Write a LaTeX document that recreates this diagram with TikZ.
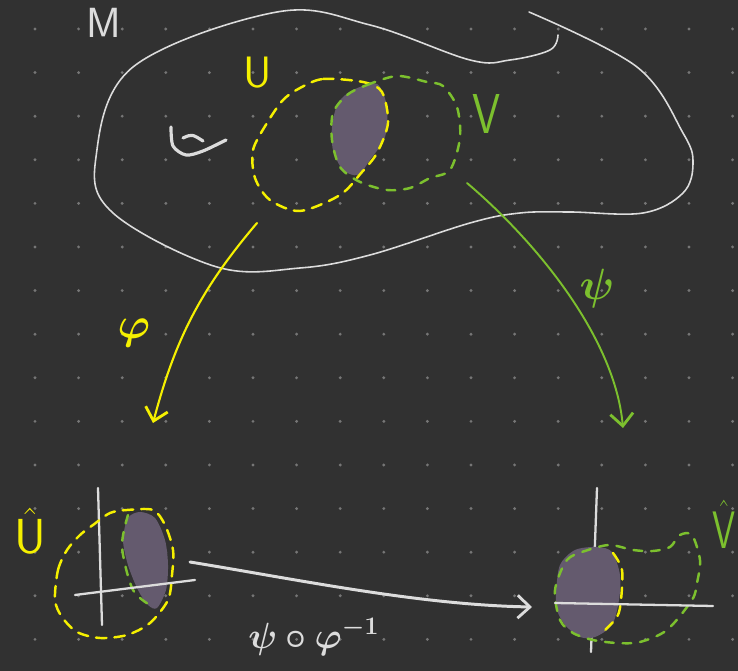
\documentclass[tikz,border=0pt]{standalone}
\usepackage{amsmath,amssymb,bm}
\usepackage{graphicx}
\usepackage{xcolor}
\usepackage{tikz}
\usetikzlibrary{arrows.meta}

\definecolor{board}{HTML}{313131}
\definecolor{dotgray}{HTML}{767676}
\definecolor{chalkwhite}{HTML}{DCDCDC}
\definecolor{chalkyellow}{HTML}{F5F000}
\definecolor{chalkgreen}{HTML}{7CC02E}
\definecolor{lensfill}{HTML}{645A6E}

\begin{document}
\begin{tikzpicture}[x=0.02cm,y=-0.02cm,
    chalk/.style={line width=1.4pt,line cap=round,line join=round},
    dashU/.style={chalk,chalkyellow,dash pattern=on 6pt off 4.5pt},
    dashV/.style={chalk,chalkgreen,dash pattern=on 5pt off 5pt},
    axisline/.style={chalk,chalkwhite,line width=1.3pt},
    mapto/.style={line cap=round,-{Straight Barb[length=7pt,width=13pt,line width=1.6pt]}},
    handlabel/.style={inner sep=0pt}]
  \useasboundingbox (0,0) rectangle (738,671);
  \fill[board] (0,0) rectangle (738,671);
  \foreach \col in {0,...,16}
    \foreach \row in {0,...,14}
      \fill[dotgray] (35+43.6*\col,29+43.6*\row) circle (1.6);

  % the manifold
  \draw[chalkwhite,line width=0.9pt,line cap=round] plot[smooth,tension=0.6] coordinates
    {(529,12) (637,67) (683,133) (693,163) (683,193) (643,213) (570,212) (520,213)
     (470,223) (370,255) (300,268) (217,267) (113,213) (96,157) (133,67) (277,12)
     (370,25) (470,60) (510,60) (550,50) (558,35)};
  \node[handlabel,chalkwhite,font=\fontsize{24}{24}\selectfont\sffamily] (labelM) at (104,23) {M};
  \draw[chalk,chalkwhite,line width=1.8pt] plot[smooth] coordinates
    {(171,127) (173,146) (186,155) (203,151) (226,140)};
  \draw[chalk,chalkwhite,line width=1.8pt] (183,138) .. controls (192,134) .. (203,141);

  % charts in M
  \fill[lensfill] plot[smooth cycle] coordinates
    {(377,84) (387,107) (385,137) (370,160) (358,175) (343,170) (333,150)
     (332,127) (338,103) (353,90)};
  \draw[dashU] plot[smooth cycle] coordinates
    {(300,88) (323,79) (363,82) (382,92) (388,123) (377,153) (362,172) (340,195)
     (300,211) (270,200) (255,178) (253,150) (267,123) (283,100)};
  \draw[dashV] plot[smooth cycle] coordinates
    {(347,95) (367,85) (397,76) (427,82) (443,86) (457,107) (460,138) (450,170)
     (430,178) (410,188) (387,190) (360,182) (340,167) (332,140) (333,113)};
  \node[handlabel,chalkyellow,font=\fontsize{25}{25}\selectfont\sffamily] (labelU) at (258,73) {U};
  \node[handlabel,chalkgreen,font=\fontsize{32}{32}\selectfont\sffamily] (labelV) at (487,114) {\scalebox{0.8}[1]{V}};

  % the two charts
  \coordinate (phiStart) at (257,223);
  \coordinate (phiEnd) at (153,423);
  \coordinate (psiStart) at (467,183);
  \coordinate (psiEnd) at (623,428);
  \draw[mapto,chalkyellow,line width=1.2pt] (phiStart) .. controls (200,290) and (175,340) .. (phiEnd);
  \draw[mapto,chalkgreen,line width=1.1pt] (psiStart) .. controls (540,245) and (615,340) .. (psiEnd);
  \node[handlabel,chalkyellow,font=\fontsize{32}{32}\selectfont] (labelPhi) at (134,333) {$\bm{\varphi}$};
  \node[handlabel,chalkgreen,font=\fontsize{32}{32}\selectfont] (labelPsi) at (597,289) {$\bm{\psi}$};

  % image of U
  \draw[axisline] (98,488) -- (102,625);
  \fill[lensfill] plot[smooth cycle] coordinates
    {(140,512) (155,518) (165,540) (168,565) (166,590) (157,608) (148,605)
     (138,590) (128,565) (123,540) (128,518)};
  \draw[dashU] plot[smooth cycle] coordinates
    {(55,600) (58,570) (67,550) (80,535) (93,525) (110,513) (127,510) (153,510)
     (165,525) (173,550) (172,575) (168,600) (150,623) (127,635) (100,638) (77,632) (62,617)};
  \draw[dashV] plot[smooth] coordinates {(128,515) (122,547) (133,590) (153,607)};
  \draw[axisline] (75,595) -- (195,580);
  \node[handlabel,chalkyellow,font=\fontsize{28}{28}\selectfont\sffamily] (labelUhat) at (30,531) {$\hat{\text{U}}$};

  % image of V
  \draw[axisline] (597,488) -- (591,652);
  \fill[lensfill] plot[smooth cycle] coordinates
    {(556,593) (560,565) (575,550) (597,547) (612,552) (620,575) (619,600)
     (612,625) (595,637) (580,637) (565,625) (557,610)};
  \draw[dashU] plot[smooth] coordinates {(613,553) (622,570) (621,600) (617,617) (602,633)};
  \draw[dashV] plot[smooth cycle] coordinates
    {(555,590) (567,560) (588,550) (610,545) (633,550) (653,551) (670,547) (680,535)
     (692,535) (700,560) (697,583) (692,600) (667,630) (640,642) (617,643) (593,640)
     (573,633) (560,620)};
  \draw[axisline] (555,603) -- (713,606);
  \node[handlabel,chalkgreen,font=\fontsize{30}{30}\selectfont\sffamily] (labelVhat) at (724,524) {\scalebox{0.7}[1]{$\hat{\text{V}}$}};

  % transition map
  \coordinate (transStart) at (190,562);
  \coordinate (transEnd) at (532,607);
  \draw[mapto,chalkwhite,line width=1.7pt] (transStart) .. controls (300,580) and (420,605) .. (transEnd);
  \node[handlabel,chalkwhite,font=\fontsize{22}{22}\selectfont] (labelTrans) at (314,637) {$\bm{\psi\circ\varphi^{-1}}$};
\end{tikzpicture}
\end{document}
